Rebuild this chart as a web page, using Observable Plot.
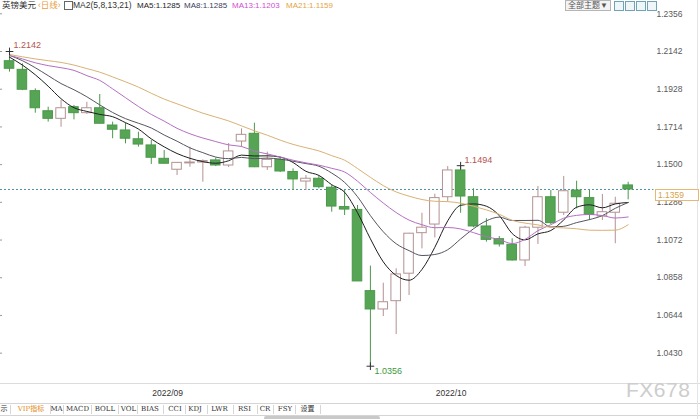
<!DOCTYPE html>
<html><head><meta charset="utf-8">
<script src="https://cdn.jsdelivr.net/npm/d3@7"></script>
<script src="https://cdn.jsdelivr.net/npm/@observablehq/plot@0.6"></script>
<style>
html,body{margin:0;padding:0;background:#fff;}
#wrap{position:relative;width:700px;height:419px;overflow:hidden;font-family:"Liberation Sans","Noto Sans CJK SC",sans-serif;}
.abs{position:absolute;white-space:nowrap;}
#hdr .abs{top:0;font-size:8px;line-height:11px;}
#tabs{position:absolute;left:0;top:403px;width:700px;height:11px;border-top:1px solid #d4d4d4;border-bottom:1px solid #d4d4d4;}
#tabs .t{position:absolute;top:0;transform:translateX(-50%);font-family:"DejaVu Serif","Noto Sans CJK SC",serif;font-size:7px;line-height:11px;color:#333;white-space:nowrap;}
#tabs .s{position:absolute;top:1px;width:1px;height:9px;background:#d6d6d6;}
</style></head><body>
<div id="wrap"><div id="chart"></div><div id="hdr"></div><div id="tabs"></div></div>
<script>
// ---- data (GBP/USD daily candles) ----
const opens  = [1.2087,1.2038,1.1917,1.1803,1.1760,1.1826,1.1792,1.1820,1.1722,1.1694,1.1644,1.1609,1.1533,1.1471,1.1507,1.1512,1.1524,1.1495,1.1631,1.1675,1.1485,1.1527,1.1458,1.1404,1.1420,1.1369,1.1259,1.1243,1.0782,1.0678,1.0725,1.0881,1.1111,1.1160,1.1315,1.1467,1.1315,1.1149,1.1077,1.1045,1.0956,1.1142,1.1315,1.1227,1.1353,1.1310,1.1206,1.1227,1.1382];
const highs  = [1.2142,1.2072,1.1930,1.1826,1.1864,1.1836,1.1854,1.1898,1.1741,1.1735,1.1684,1.1637,1.1580,1.1512,1.1599,1.1527,1.1537,1.1620,1.1703,1.1735,1.1571,1.1540,1.1476,1.1438,1.1436,1.1382,1.1353,1.1268,1.0924,1.0827,1.0909,1.1110,1.1224,1.1332,1.1489,1.1494,1.1363,1.1193,1.1092,1.1079,1.1150,1.1376,1.1353,1.1433,1.1406,1.1353,1.1331,1.1315,1.1400];
const lows   = [1.2025,1.1920,1.1792,1.1741,1.1712,1.1754,1.1785,1.1731,1.1647,1.1618,1.1599,1.1501,1.1504,1.1438,1.1485,1.1400,1.1489,1.1484,1.1599,1.1483,1.1467,1.1455,1.1353,1.1353,1.1363,1.1230,1.1211,1.0837,1.0356,1.0638,1.0536,1.0757,1.1022,1.1084,1.1288,1.1224,1.1142,1.1060,1.1032,1.0953,1.0922,1.1047,1.1160,1.1211,1.1249,1.1183,1.1183,1.1051,1.1300];
const closes = [1.2044,1.1925,1.1820,1.1760,1.1820,1.1792,1.1820,1.1732,1.1698,1.1647,1.1614,1.1539,1.1505,1.1510,1.1512,1.1520,1.1495,1.1575,1.1669,1.1485,1.1527,1.1461,1.1416,1.1420,1.1372,1.1262,1.1245,1.0837,1.0678,1.0719,1.0877,1.1108,1.1142,1.1310,1.1467,1.1319,1.1149,1.1073,1.1047,1.0956,1.1142,1.1315,1.1168,1.1349,1.1315,1.1215,1.1230,1.1278,1.1359];
const ma5  = [1.2110,1.2065,1.2010,1.1945,1.1874,1.1823,1.1802,1.1785,1.1772,1.1738,1.1702,1.1646,1.1601,1.1563,1.1536,1.1517,1.1508,1.1522,1.1554,1.1549,1.1550,1.1543,1.1512,1.1462,1.1439,1.1386,1.1343,1.1227,1.1079,1.0948,1.0871,1.0844,1.0905,1.1031,1.1181,1.1269,1.1277,1.1264,1.1211,1.1109,1.1073,1.1107,1.1126,1.1186,1.1258,1.1272,1.1255,1.1277,1.1285];
const ma8  = [1.2120,1.2090,1.2050,1.2005,1.1960,1.1925,1.1885,1.1839,1.1796,1.1761,1.1735,1.1708,1.1668,1.1633,1.1595,1.1568,1.1543,1.1534,1.1541,1.1534,1.1537,1.1531,1.1519,1.1506,1.1491,1.1452,1.1399,1.1318,1.1211,1.1119,1.1051,1.1012,1.0984,1.0990,1.1017,1.1078,1.1136,1.1181,1.1202,1.1183,1.1183,1.1184,1.1146,1.1150,1.1171,1.1188,1.1211,1.1252,1.1285];
const ma13 = [1.2120,1.2100,1.2078,1.2062,1.2050,1.2035,1.2005,1.1978,1.1930,1.1880,1.1830,1.1785,1.1747,1.1706,1.1675,1.1651,1.1631,1.1612,1.1603,1.1577,1.1561,1.1543,1.1525,1.1510,1.1497,1.1479,1.1458,1.1406,1.1342,1.1282,1.1228,1.1185,1.1159,1.1142,1.1143,1.1135,1.1114,1.1091,1.1075,1.1052,1.1076,1.1125,1.1159,1.1196,1.1212,1.1217,1.1211,1.1197,1.1203];
const ma21 = [1.2125,1.2112,1.2100,1.2090,1.2080,1.2065,1.2045,1.2025,1.1998,1.1970,1.1940,1.1905,1.1872,1.1845,1.1818,1.1792,1.1770,1.1748,1.1720,1.1692,1.1667,1.1639,1.1615,1.1596,1.1578,1.1551,1.1525,1.1478,1.1428,1.1381,1.1345,1.1321,1.1302,1.1292,1.1290,1.1281,1.1264,1.1243,1.1218,1.1184,1.1168,1.1158,1.1144,1.1141,1.1136,1.1128,1.1127,1.1128,1.1159];
const maNames = ["MA5","MA8","MA13","MA21"];
const yTicks = [1.2356,1.2142,1.1928,1.1714,1.1500,1.1286,1.1072,1.0858,1.0644,1.0430];
const monthIdx = [12, 34];
const monthLabels = ["2022/09","2022/10"];
const markIdx = [1, 36, 29];          // candles whose extreme is labelled
const markKind = ["high","high","low"];
const tabLabels = ["VIP指标","MA","MACD","BOLL","VOL","BIAS","CCI","KDJ","LWR","RSI","CR","FSY","设置"];
const title = "英镑美元", period = "‹日线›", maTitle = "MA2(5,8,13,21)", themeBtn = "全部主题▼";

// ---- build ----
const fmt = d3.format(".4f");
const candles = closes.map((c, k) => ({i: k + 1, o: opens[k], h: highs[k], l: lows[k], c}));
const isUp = d => d.c >= d.o;
const maSeries = [ma5, ma8, ma13, ma21];
const maColors = ["#1e1e1e", "#55555f", "#b46fc2", "#d9b274"];
const maData = maSeries.flatMap((arr, s) => arr.map((v, k) => ({i: k + 1, v, s: maNames[s]})));
const marks = markIdx.map((i, k) => ({i, v: markKind[k] === "high" ? highs[i - 1] : lows[i - 1], kind: markKind[k]}));
const months = monthIdx.map((i, k) => ({i, label: monthLabels[k]}));
const last = closes[closes.length - 1];
const greenFill = "#55a555", greenLine = "#4a984a", upLine = "#b39292";

const chart = Plot.plot({
  width: 700, height: 419,
  marginLeft: 0, marginRight: 53, marginTop: 12, marginBottom: 36,
  x: {type: "linear", domain: [0.3, 50.5], axis: null},
  y: {domain: [1.02578, 1.23634], axis: null},
  color: {type: "identity"},
  style: {fontFamily: "Liberation Sans, sans-serif", fontSize: "8.5px", background: "transparent", overflow: "visible"},
  marks: [
    Plot.ruleY(yTicks, {x1: 0.3, x2: 0.46, stroke: "#9a9a9a"}),
    Plot.ruleY([last], {x1: 0.3, x2: 51.0, stroke: "#4f8fa6", strokeDasharray: "2,2", strokeWidth: 1}),
    Plot.ruleX(candles, {x: "i", y1: "l", y2: "h", stroke: d => isUp(d) ? upLine : greenLine, strokeWidth: 1}),
    Plot.rect(candles, {x1: d => d.i - 0.37, x2: d => d.i + 0.37, y1: "o", y2: "c",
      fill: d => isUp(d) ? "#ffffff" : greenFill, stroke: d => isUp(d) ? upLine : greenLine, strokeWidth: 1}),
    Plot.line(maData, {x: "i", y: "v", z: "s", stroke: d => maColors[maNames.indexOf(d.s)], strokeWidth: 1, curve: "monotone-x"}),
    Plot.dot(marks, {x: "i", y: "v", symbol: "plus", r: 2.6, stroke: "#333", strokeWidth: 1}),
    Plot.text(marks.filter(d => d.kind === "high"), {x: "i", y: "v", text: d => fmt(d.v), textAnchor: "start", dx: 4, dy: -6, fill: "#b5544f", fontSize: 9}),
    Plot.text(marks.filter(d => d.kind === "low"), {x: "i", y: "v", text: d => fmt(d.v), textAnchor: "start", dx: 4, dy: 5, fill: "#3d9a3d", fontSize: 9}),
    Plot.text(yTicks, {y: d => d, text: d => fmt(d), frameAnchor: "right", textAnchor: "start", dx: 9, fill: "#5a5a5a", fontSize: 8.5}),
    Plot.text(months, {x: "i", text: "label", frameAnchor: "bottom", textAnchor: "start", dx: 1, dy: 12, fill: "#333", fontSize: 8.5})
  ]
});
document.getElementById("chart").appendChild(chart);

// overlays positioned with the plot's own scales
const wrap = document.getElementById("wrap");
const yS = chart.scale("y");
function add(parent, cls, html, css) {
  const e = document.createElement("div"); e.className = cls; e.innerHTML = html;
  Object.assign(e.style, css); parent.appendChild(e); return e;
}
// bottom rule of the price pane
add(wrap, "abs", "", {left: "0px", top: "383px", width: "700px", height: "1px", background: "#dcdcdc"});
add(wrap, "abs", "", {left: "697px", top: "0px", width: "1px", height: "419px", background: "#e4e4e4"});
// last price box
add(wrap, "abs", fmt(last), {left: "655px", top: Math.round(yS.apply(last)) + "px", width: "40px", height: "10px",
  border: "1px solid #e6b873", background: "#fff", color: "#d7a24a", fontSize: "8.5px", lineHeight: "10px", paddingLeft: "2px"});
// watermark
add(wrap, "abs", "FX678", {left: "626px", top: "378px", fontSize: "21px", color: "#cdcdcd", letterSpacing: "0.5px"});

// header
const hdr = document.getElementById("hdr");
add(hdr, "abs", title, {left: "2px", color: "#333", fontSize: "8.5px"});
add(hdr, "abs", period, {left: "38px", color: "#e8a040", fontSize: "8.5px"});
add(hdr, "abs", "", {left: "64px", top: "1px", width: "7px", height: "7px", border: "1px solid #666"});
add(hdr, "abs", maTitle, {left: "73px", color: "#333", fontSize: "8.5px"});
const legLeft = [137, 184, 232, 286];
const legColors = ["#222", "#3d3d5c", "#d04ed0", "#e4a445"];
maSeries.forEach((arr, s) => add(hdr, "abs", maNames[s] + ":" + fmt(arr[arr.length - 1]), {left: legLeft[s] + "px", color: legColors[s]}));
add(hdr, "abs", themeBtn, {left: "565px", top: "0px", height: "9px", lineHeight: "9px", fontSize: "8px", color: "#555",
  border: "1px solid #b5b5b5", background: "#f3f3f3", padding: "0 2px"});
[614, 625, 636, 647].forEach(x => add(hdr, "abs", "", {left: x + "px", top: "1px", width: "8px", height: "8px", border: "1px solid #6fa3b5", background: "#eef6f8"}));

// tab bar
const tabs = document.getElementById("tabs");
const tabCenters = [31, 56.5, 77.5, 105, 128.5, 150, 175, 195, 219.5, 244.5, 265, 285, 307.5];
const seps = [10, 50, 63, 91, 118, 137, 163, 185, 207, 233, 257, 273, 295, 320];
add(tabs, "t", "示", {left: "4px", color: "#333"});
tabLabels.forEach((t, k) => add(tabs, "t", t, {left: tabCenters[k] + "px", color: k === 0 ? "#e38c1a" : "#333"}));
seps.forEach(x => add(tabs, "s", "", {left: x + "px"}));
add(wrap, "abs", "", {left: "264px", top: "416px", width: "116px", height: "4px", background: "#c9c9c9", borderRadius: "2px"});
</script></body></html>
